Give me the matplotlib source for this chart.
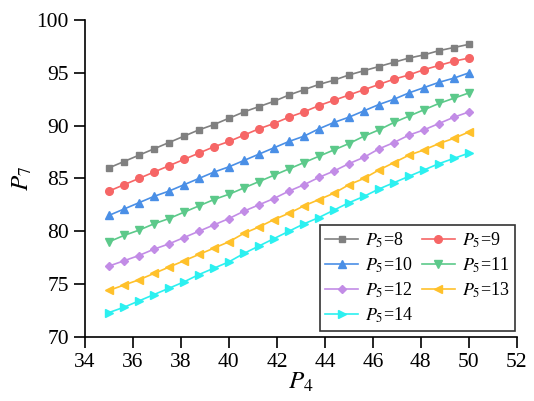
import matplotlib
matplotlib.use("Agg")
import matplotlib.pyplot as plt

plt.rcParams["font.family"] = ["Liberation Serif", "DejaVu Serif"]
plt.rcParams["mathtext.fontset"] = "stix"

# P4 grid (x) and P7 response (y) for each P5 level
p4 = [35.0, 35.625, 36.25, 36.875, 37.5, 38.125, 38.75, 39.375, 40.0,
      40.625, 41.25, 41.875, 42.5, 43.125, 43.75, 44.375, 45.0,
      45.625, 46.25, 46.875, 47.5, 48.125, 48.75, 49.375, 50.0]

p7_p5_8 = [86.0, 86.6, 87.2, 87.8, 88.4, 89.0, 89.6, 90.1, 90.7, 91.3, 91.8, 92.3,
           92.9, 93.4, 93.9, 94.3, 94.8, 95.2, 95.6, 96.0, 96.4, 96.7, 97.1, 97.4, 97.7]
p7_p5_9 = [83.8, 84.4, 85.0, 85.6, 86.2, 86.8, 87.4, 88.0, 88.5, 89.1, 89.7, 90.2,
           90.8, 91.3, 91.9, 92.4, 92.9, 93.4, 93.9, 94.4, 94.8, 95.3, 95.7, 96.1, 96.4]
p7_p5_10 = [81.5, 82.1, 82.7, 83.3, 83.8, 84.4, 85.0, 85.6, 86.1, 86.7, 87.3, 87.9,
            88.5, 89.0, 89.7, 90.3, 90.8, 91.4, 92.0, 92.5, 93.1, 93.6, 94.1, 94.5, 95.0]
p7_p5_11 = [79.0, 79.6, 80.1, 80.7, 81.2, 81.8, 82.4, 83.0, 83.5, 84.1, 84.7, 85.3,
            85.9, 86.5, 87.1, 87.7, 88.3, 89.0, 89.6, 90.3, 90.9, 91.5, 92.1, 92.6, 93.1]
p7_p5_12 = [76.7, 77.2, 77.7, 78.3, 78.8, 79.4, 80.0, 80.6, 81.2, 81.9, 82.5, 83.1,
            83.8, 84.4, 85.1, 85.7, 86.4, 87.0, 87.8, 88.4, 89.1, 89.6, 90.2, 90.8, 91.3]
p7_p5_13 = [74.4, 74.9, 75.4, 76.0, 76.6, 77.2, 77.8, 78.4, 79.0, 79.8, 80.4, 81.1,
            81.7, 82.4, 83.0, 83.6, 84.4, 85.0, 85.8, 86.5, 87.2, 87.7, 88.3, 88.8, 89.4]
p7_p5_14 = [72.3, 72.8, 73.4, 74.0, 74.6, 75.2, 75.9, 76.5, 77.1, 77.9, 78.6, 79.3,
            80.0, 80.7, 81.3, 82.0, 82.7, 83.3, 84.0, 84.6, 85.2, 85.8, 86.4, 86.9, 87.4]

p5_levels = [8, 9, 10, 11, 12, 13, 14]
series = [p7_p5_8, p7_p5_9, p7_p5_10, p7_p5_11, p7_p5_12, p7_p5_13, p7_p5_14]
colors = ["#808080", "#F66666", "#4A8FE6", "#5CC98A", "#C28CE6", "#FFC12B", "#2CF0F0"]
markers = ["s", "o", "^", "v", "D", "<", ">"]
msizes = [5, 5.5, 5.5, 5.5, 4.5, 5.5, 5.5]

fig = plt.figure(figsize=(5.34, 4.01), dpi=100)
ax = fig.add_axes([0.159, 0.160, 0.809, 0.790])

handles = []
for lvl, y, c, m, ms in zip(p5_levels, series, colors, markers, msizes):
    h, = ax.plot(p4, y, color=c, marker=m, markersize=ms, linewidth=1.2,
                 label=f"$P_5$={lvl}")
    handles.append(h)

ax.set_xlim(34, 52)
ax.set_ylim(70, 100)
ax.set_xticks(range(34, 53, 2))
ax.set_yticks(range(70, 101, 5))
ax.spines["top"].set_visible(False)
ax.spines["right"].set_visible(False)
for s in ("left", "bottom"):
    ax.spines[s].set_linewidth(1.2)
ax.tick_params(direction="out", length=8, width=1.2, labelsize=15.5)

ax.set_xlabel("$P_4$", fontsize=18, labelpad=-1)
ax.set_ylabel("$P_7$", fontsize=18, labelpad=2)

# legend filled row by row: left column 8,10,12,14 and right column 9,11,13
order = [0, 2, 4, 6, 1, 3, 5]
leg = ax.legend([handles[i] for i in order], [handles[i].get_label() for i in order],
                ncol=2, loc="lower right", bbox_to_anchor=(0.995, 0.02),
                borderaxespad=0, fontsize=13, frameon=True, fancybox=False,
                edgecolor="black", handlelength=1.8, handletextpad=0.4,
                columnspacing=0.5, labelspacing=0.32, borderpad=0.3)
leg.get_frame().set_linewidth(1.2)

fig.savefig("out.png", dpi=100)
